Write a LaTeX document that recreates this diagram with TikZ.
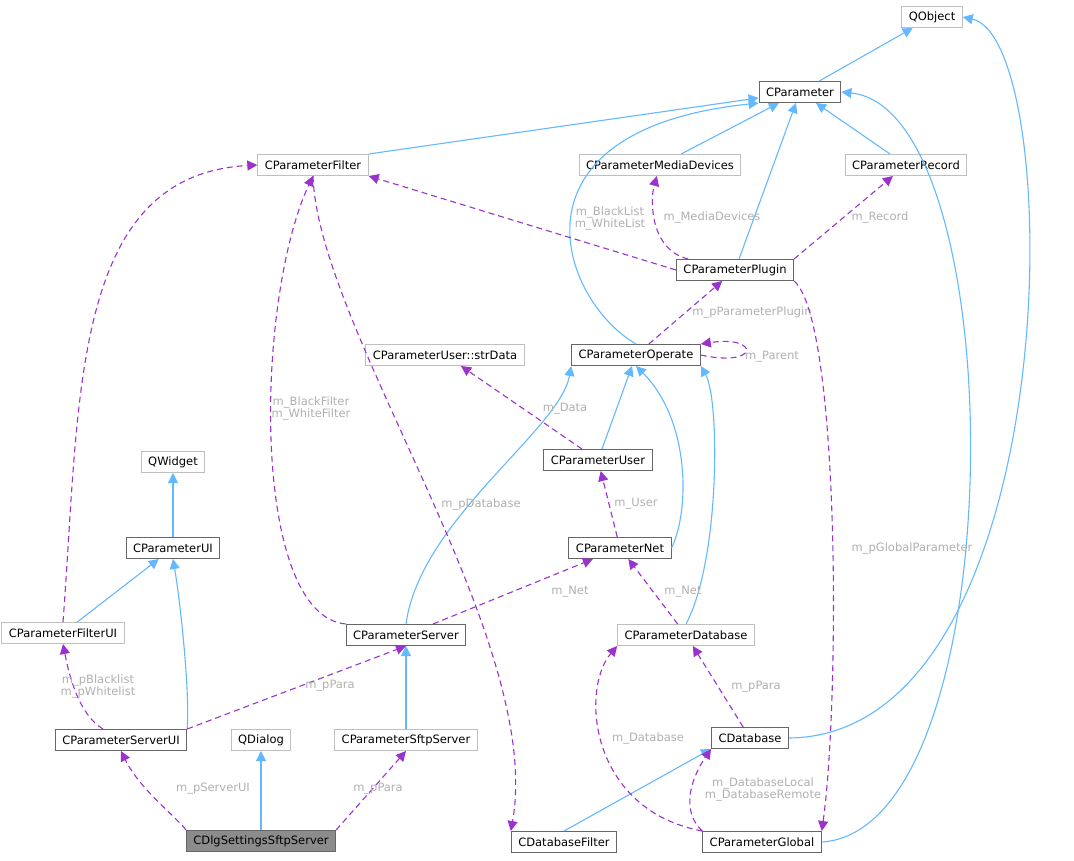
\documentclass[tikz,border=0pt]{standalone}
\usepackage{fontspec}
\setmainfont{DejaVu Sans}
\usetikzlibrary{arrows.meta}
\definecolor{inh}{HTML}{63B8FF}
\definecolor{use}{HTML}{9A32CD}
\definecolor{lbl}{HTML}{B0B0B0}
\tikzset{
 cls/.style={shape=rectangle,draw=black!60,fill=white,line width=1pt,minimum height=21pt,inner xsep=7pt,font=\fontsize{11.5}{13}\selectfont},
 ext/.style={cls,draw=black!25},
 inherit/.style={draw=inh,line width=1.1pt,-{Triangle[length=10pt,width=10pt]}},
 uses/.style={draw=use,line width=1.1pt,dash pattern=on 6pt off 4pt,-{Triangle[length=10pt,width=10pt]}},
 lab/.style={text=lbl,font=\fontsize{11.5}{12}\selectfont,align=center,inner sep=1pt}
}
\begin{document}
\begin{tikzpicture}[x=1pt,y=-1pt]
 \useasboundingbox (0,0) rectangle (1074,860);
 \node (qobj) at (932,17) [ext] {QObject};
 \node (par) at (800,92) [cls] {CParameter};
 \node (filt) at (313,165) [ext] {CParameterFilter};
 \node (media) at (660,165) [ext] {CParameterMediaDevices};
 \node (rec) at (906,165) [ext] {CParameterRecord};
 \node (plug) at (735,270) [cls] {CParameterPlugin};
 \node (oper) at (636,355) [cls] {CParameterOperate};
 \node (strd) at (445,355) [ext] {CParameterUser::strData};
 \node (qwid) at (173,462) [ext] {QWidget};
 \node (user) at (598,460) [cls] {CParameterUser};
 \node (pui) at (173,548) [cls] {CParameterUI};
 \node (net) at (620,548) [cls] {CParameterNet};
 \node (fui) at (63,633) [ext] {CParameterFilterUI};
 \node (srv) at (406,635) [cls] {CParameterServer};
 \node (pdb) at (686,635) [ext] {CParameterDatabase};
 \node (sui) at (121,740) [cls] {CParameterServerUI};
 \node (qdlg) at (261,740) [ext] {QDialog};
 \node (sftp) at (406,740) [ext] {CParameterSftpServer};
 \node (db) at (750,738) [cls] {CDatabase};
 \node (dlg) at (261,841) [cls,fill=black!45] {CDlgSettingsSftpServer};
 \node (dbf) at (564,842) [cls] {CDatabaseFilter};
 \node (glob) at (762,842) [cls] {CParameterGlobal};
 % inheritance
 \draw[inherit] (par) -- (qobj);
 \draw[inherit] (filt.north east) -- (par);
 \draw[inherit] (media) -- (par);
 \draw[inherit] (rec) -- (par);
 \draw[inherit] (plug) -- (par);
 \draw[inherit] (oper.north) .. controls (560,300) and (500,130) .. (par.south west);
 \draw[inherit] (glob.east) .. controls (1015,830) and (1015,110) .. (par.east);
 \draw[inherit] (db.east) .. controls (1068,735) and (1068,40) .. (qobj.east);
 \draw[inherit] (user) -- (oper);
 \draw[inherit] (net.east) .. controls (690,510) and (690,420) .. (oper.south);
 \draw[inherit] (pdb.north) .. controls (720,560) and (720,400) .. (oper.south east);
 \draw[inherit] (srv.north) .. controls (420,520) and (560,430) .. (oper.south west);
 \draw[inherit] (pui) -- (qwid);
 \draw[inherit] (fui) -- (pui);
 \draw[inherit] (sui.north east) .. controls (190,690) and (180,600) .. (pui.south);
 \draw[inherit] (sftp) -- (srv);
 \draw[inherit] (dlg) -- (qdlg);
 \draw[inherit] (dbf.north) -- (db.south west);
 % usage
 \draw[uses] (fui.north) .. controls (80,400) and (70,175) .. (filt.west);
 \draw[uses] (plug.west) -- (filt.south east);
 \node (l1) at (610,218) [lab] {m\_BlackList\\m\_WhiteList};
 \draw[uses] (plug) .. controls (650,250) and (650,200) .. (media);
 \node (l2) at (712,217) [lab] {m\_MediaDevices};
 \draw[uses] (plug.north east) -- (rec);
 \node (l3) at (880,217) [lab] {m\_Record};
 \draw[uses] (oper) -- (plug);
 \node (l4) at (752,312) [lab] {m\_pParameterPlugin};
 \draw[uses] (oper.east) .. controls (760,368) and (760,335) .. (oper.north east);
 \node (l5) at (772,357) [lab] {m\_Parent};
 \draw[uses] (user) -- (strd);
 \node (l6) at (565,409) [lab] {m\_Data};
 \draw[uses] (srv.north west) .. controls (250,615) and (255,300) .. (filt.south);
 \node (l7) at (311,408) [lab] {m\_BlackFilter\\m\_WhiteFilter};
 \draw[uses] (filt.south) .. controls (318,330) and (545,640) .. (dbf.north west);
 \node (l8) at (481,504) [lab] {m\_pDatabase};
 \draw[uses] (plug.south east) .. controls (840,320) and (840,700) .. (glob.north east);
 \node (l9) at (912,548) [lab] {m\_pGlobalParameter};
 \draw[uses] (net) -- (user);
 \node (l10) at (636,504) [lab] {m\_User};
 \draw[uses] (srv) -- (net);
 \node (l11) at (570,592) [lab] {m\_Net};
 \draw[uses] (pdb) -- (net);
 \node (l12) at (683,592) [lab] {m\_Net};
 \draw[uses] (sui) .. controls (80,715) and (70,680) .. (fui.south);
 \node (l13) at (98,686) [lab] {m\_pBlacklist\\m\_pWhitelist};
 \draw[uses] (sui.north east) -- (srv.south);
 \node (l14) at (330,686) [lab] {m\_pPara};
 \draw[uses] (db) -- (pdb);
 \node (l15) at (756,687) [lab] {m\_pPara};
 \draw[uses] (glob.north west) .. controls (590,810) and (580,690) .. (pdb.south west);
 \node (l16) at (648,738) [lab] {m\_Database};
 \draw[uses] (glob.north west) .. controls (675,805) and (700,765) .. (db.south west);
 \node (l17) at (763,789) [lab] {m\_DatabaseLocal\\m\_DatabaseRemote};
 \draw[uses] (dlg.north west) .. controls (180,820) and (140,790) .. (sui.south);
 \node (l18) at (213,789) [lab] {m\_pServerUI};
 \draw[uses] (dlg.north east) -- (sftp.south);
 \node (l19) at (378,789) [lab] {m\_pPara};
\end{tikzpicture}
\end{document}
